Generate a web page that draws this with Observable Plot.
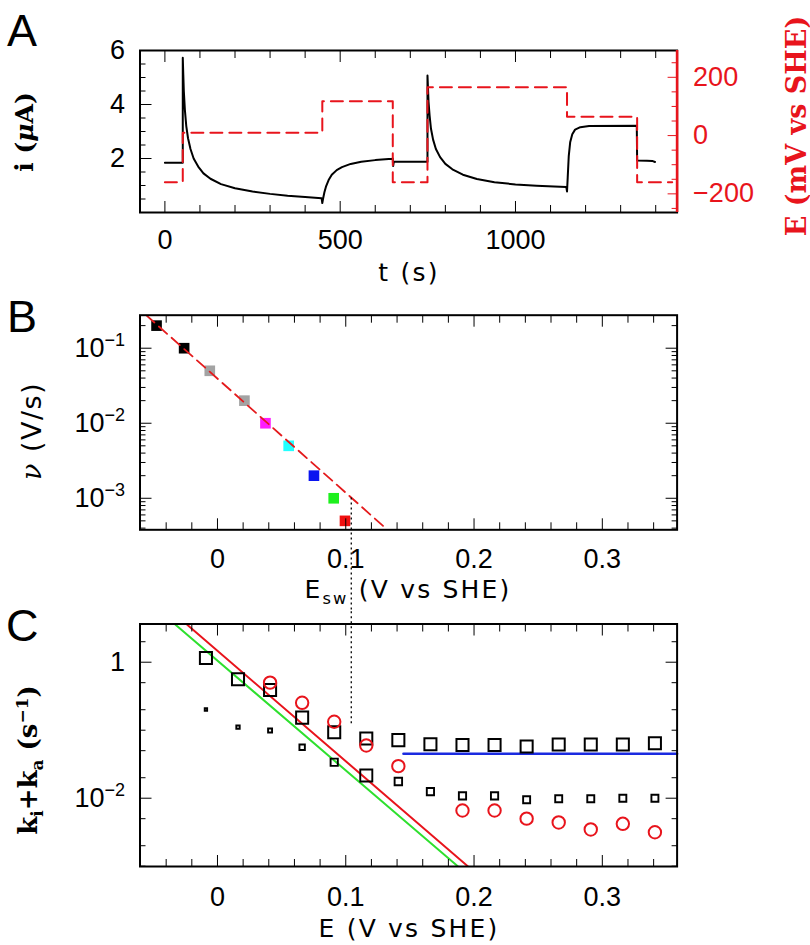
<!DOCTYPE html>
<html><head><meta charset="utf-8">
<script src="https://cdn.jsdelivr.net/npm/d3@7"></script>
<script src="https://cdn.jsdelivr.net/npm/@observablehq/plot@0.6"></script>
<style>
body{margin:0;background:#fff;}
#fig{position:relative;width:810px;height:945px;overflow:hidden;background:#fff;}
#fig svg{position:absolute;left:0;overflow:hidden;}
.lbl{position:absolute;white-space:nowrap;line-height:1;color:#000;}
.rot{transform:translate(-50%,-50%) rotate(-90deg);}
.hc{transform:translate(-50%,0);}
.ttl{font-family:"DejaVu Sans",sans-serif;font-size:25px;letter-spacing:2.2px;}
.serifb{font-family:"DejaVu Serif",serif;font-weight:bold;}
.letter{font-family:"Liberation Sans",Arial,sans-serif;font-size:45px;}
sub,sup{font-size:0.65em;}
</style></head><body><div id="fig"></div>
<script>
// ================= DATA =================
// Panel A: current trace (t in s, i in µA)
const tCurrent = [0,51,51,52.5,54,57,61,66,73,82,95,110,130,160,200,250,300,350,400,447,449,451,455,460,467,476,490,505,530,560,600,648,650,651,653,749,749,750.5,752,755,759,765,773,785,800,820,850,890,940,1000,1060,1110,1145,1147,1149,1152,1156,1162,1170,1185,1210,1346,1347,1375,1390,1398];
const iCurrent = [1.84,1.84,5.73,5.1,4.5,3.8,3.2,2.75,2.35,2.0,1.7,1.45,1.25,1.05,0.9,0.78,0.69,0.62,0.57,0.53,0.35,0.5,0.75,0.98,1.2,1.4,1.57,1.68,1.8,1.88,1.94,1.99,2.0,1.72,1.88,1.88,5.07,4.6,4.1,3.6,3.1,2.7,2.35,2.05,1.8,1.6,1.4,1.24,1.12,1.04,0.99,0.96,0.94,0.78,1.3,2.1,2.6,2.9,3.07,3.16,3.2,3.21,1.93,1.92,1.91,1.87];
// Panel A: potential steps (step starts, mV vs SHE)
const tStep = [0, 51, 449, 650, 749, 1147, 1347, 1447];
const eStep = [-160, 10, 118, -160, 166, 65, -160, -160];
const aXTicks = [0, 500, 1000];
const aYTicks = [2, 4, 6];
const aY2Ticks = [-200, 0, 200];

// Panel B: switching potential vs scan rate
const bScanRate = [0.2, 0.1, 0.05, 0.02, 0.01, 0.005, 0.002, 0.001, 0.0005];
const bEsw = [-0.0475, -0.026, -0.006, 0.021, 0.0374, 0.0555, 0.0752, 0.0906, 0.0994];
const bFitE = [-0.0556, 0.1325];
const bFitV = [0.2754, 0.00038];
const guideE = [0.1043];
const eTicks = [0, 0.1, 0.2, 0.3];
const bYTicks = [0.1, 0.01, 0.001];
const bYTickLabels = ["10^−1", "10^−2", "10^−3"];

// Panel C: rate constants vs E
const cE = [-0.009, 0.016, 0.041, 0.066, 0.091, 0.116, 0.141, 0.166, 0.191, 0.216, 0.241, 0.266, 0.291, 0.316, 0.341];
const cUpperK = [1.15, 0.56, 0.39, 0.153, 0.0935, 0.0755, 0.0715, 0.062, 0.0607, 0.0607, 0.0576, 0.0616, 0.0616, 0.0616, 0.0645];
const cLowerK = [0.2015, 0.111, 0.099, 0.0562, 0.0338, 0.0216, 0.0176, 0.0125, 0.0108, 0.0108, 0.0095, 0.0098, 0.0098, 0.01, 0.01];
const cLowerW = [0.2, 0.28, 0.33, 0.45, 0.6, 1, 0.62, 0.6, 0.6, 0.6, 0.58, 0.58, 0.58, 0.58, 0.58];
const cCircE = [0.041, 0.066, 0.091, 0.116, 0.141, 0.191, 0.216, 0.241, 0.266, 0.291, 0.316, 0.341];
const cCircK = [0.5, 0.253, 0.133, 0.0596, 0.0296, 0.0066, 0.0066, 0.005, 0.0044, 0.00347, 0.0042, 0.00316];
const redFitE = [-0.0236, 0.1951];
const redFitK = [3.55, 0.001];
const greenFitE = [-0.0327, 0.1873];
const greenFitK = [3.55, 0.001];
const blueE = [0.145, 0.3583];
const blueK = [0.045, 0.045];
const cYTicks = [1, 0.01];
const cYTickLabels = ["1", "10^−2"];

// ================= LAYOUT =================
const W = 810, ML = 139.5, MR = 133.4;
const fig = document.getElementById("fig");
const FONT = "'Liberation Sans', Arial, sans-serif";
const baseStyle = {background: "transparent", fontFamily: FONT, fontSize: "27px", overflow: "hidden"};
const zip = (a, b, ka, kb) => a.map((v, i) => ({[ka]: v, [kb]: b[i]}));
const noText = () => "";

// inward ticks drawn by the library's axis marks (negative tickSize points into the frame)
function ticksX(vals, len) {
  return [
    Plot.axisX({anchor: "bottom", ticks: vals, tickSize: -len, tickFormat: noText, label: null}),
    Plot.axisX({anchor: "top", ticks: vals, tickSize: -len, tickFormat: noText, label: null})
  ];
}
function ticksY(vals, len, sides) {
  return sides.map(s => Plot.axisY({anchor: s, ticks: vals, tickSize: -len, tickFormat: noText, label: null}));
}
function place(svg, top) {
  svg.querySelectorAll("text").forEach(t => { if (t.textContent === "") t.remove(); });
  svg.style.top = top + "px"; fig.appendChild(svg); return svg;
}
function superscripts(svg) {
  svg.querySelectorAll("text").forEach(t => {
    const s = t.textContent;
    if (!s.includes("^")) return;
    const [base, exp] = s.split("^");
    while (t.firstChild) t.removeChild(t.firstChild);
    t.appendChild(document.createTextNode(base));
    const ts = document.createElementNS("http://www.w3.org/2000/svg", "tspan");
    ts.setAttribute("dy", "-11");
    ts.setAttribute("style", "font-size:18px");
    ts.textContent = exp;
    t.appendChild(ts);
  });
}
function logMinor(lo, hi, mults, skip = []) {
  const out = [];
  for (let e = -6; e <= 2; e++) for (const m of mults) {
    const v = +(m * Math.pow(10, e)).toPrecision(6);
    if (v > lo * 1.001 && v < hi * 0.999 && !skip.some(t => Math.abs(t - v) / t < 1e-6)) out.push(v);
  }
  return out;
}

// ---------- Panel A ----------
const A = {H: 300, mt: 50, mb: 88, x: [-71, 1461], y: [0, 6], y2: [-264, 292]};
const currentData = zip(tCurrent, iCurrent, "t", "i");
const stepData = zip(tStep, eStep, "t", "E");

const svgA = Plot.plot({
  width: W, height: A.H, marginTop: A.mt, marginBottom: A.mb, marginLeft: ML, marginRight: MR,
  x: {domain: A.x}, y: {domain: A.y},
  style: baseStyle,
  marks: [
    Plot.line(currentData, {x: "t", y: "i", stroke: "black", strokeWidth: 2, strokeLinejoin: "round"}),
    Plot.frame({stroke: "black", strokeWidth: 2}),
    ...ticksX(d3.range(100, 1401, 100).filter(v => v % 500), 7),
    ...ticksX(aXTicks, 11),
    ...ticksY(d3.range(0.5, 6, 0.5).filter(v => v % 2), 6, ["left"]),
    ...ticksY(aYTicks, 12, ["left"]),
    Plot.axisX({ticks: aXTicks, tickSize: 0, tickPadding: 17, tickFormat: d => String(d), label: null, fontSize: 27}),
    Plot.axisY({ticks: aYTicks, tickSize: 0, tickPadding: 15, tickFormat: d => String(d), label: null, fontSize: 27})
  ]
});
place(svgA, 0);

const svgA2 = Plot.plot({
  width: W, height: A.H, marginTop: A.mt, marginBottom: A.mb, marginLeft: ML, marginRight: MR,
  x: {domain: A.x, axis: null}, y: {domain: A.y2},
  style: {...baseStyle, color: "#e8141c"},
  marks: [
    Plot.line(stepData, {x: "t", y: "E", curve: "step-after", stroke: "#e8141c", strokeWidth: 2, strokeDasharray: "12,7"}),
    Plot.ruleX([A.x[1]], {stroke: "#e8141c", strokeWidth: 2.6}),
    ...ticksY(d3.range(-250, 251, 50).filter(v => v % 200), 6, ["right"]),
    ...ticksY(aY2Ticks, 10, ["right"]),
    Plot.axisY({anchor: "right", ticks: aY2Ticks, tickSize: 0, tickPadding: 16, tickFormat: d => (d < 0 ? "−" : "") + Math.abs(d), label: null, fontSize: 27})
  ]
});
place(svgA2, 0);

// ---------- Panel B ----------
const B = {H: 310, mt: 14.7, mb: 80.7, x: [-0.0604, 0.3583], y: [0.00038, 0.2754]};
const bData = zip(bEsw, bScanRate, "E", "v");
const bFit = zip(bFitE, bFitV, "E", "v");
const bLabelMap = new Map(bYTicks.map((v, i) => [v, bYTickLabels[i]]));
const eMinor = d3.range(-4, 35, 2).map(v => v / 100).filter(v => Math.abs(v * 10 - Math.round(v * 10)) > 1e-6);

const svgB = Plot.plot({
  width: W, height: B.H, marginTop: B.mt, marginBottom: B.mb, marginLeft: ML, marginRight: MR,
  x: {domain: B.x}, y: {type: "log", domain: B.y},
  color: {type: "ordinal", domain: bScanRate, range: ["#000000", "#000000", "#a3a3a3", "#a3a3a3", "#ff1cff", "#22ffff", "#0a14f0", "#1ef01e", "#f01010"]},
  style: baseStyle,
  marks: [
    Plot.dot(bData, {x: "E", y: "v", fill: "v", symbol: "square", r: 6}),
    Plot.line(bFit, {x: "E", y: "v", stroke: "#e41a1c", strokeWidth: 1.8, strokeDasharray: "11,6", clip: true}),
    Plot.ruleX(guideE, {x: d => d, y1: 0.00101, y2: 1e-7, stroke: "black", strokeWidth: 1.3, strokeDasharray: "2,3"}),
    Plot.frame({stroke: "black", strokeWidth: 2}),
    ...ticksX(eMinor, 7),
    ...ticksX(eTicks, 11),
    ...ticksY(logMinor(B.y[0], B.y[1], [2, 3, 4, 5, 6, 7, 8, 9]), 6, ["left", "right"]),
    ...ticksY(bYTicks, 12, ["left", "right"]),
    Plot.axisX({ticks: eTicks, tickSize: 0, tickPadding: 19, tickFormat: d => String(d), label: null, fontSize: 27}),
    Plot.axisY({ticks: bYTicks, tickSize: 0, tickPadding: 15, tickFormat: d => bLabelMap.get(d), label: null, fontSize: 27})
  ]
});
superscripts(svgB);
place(svgB, 300);

// ---------- Panel C ----------
const C = {H: 335, mt: 13.5, mb: 79, x: [-0.0604, 0.3583], y: [0.00099, 3.646]};
const upper = zip(cE, cUpperK, "E", "k");
const lower = cE.map((e, i) => ({E: e, k: cLowerK[i], w: cLowerW[i]}));
const circ = zip(cCircE, cCircK, "E", "k");
const cLabelMap = new Map(cYTicks.map((v, i) => [v, cYTickLabels[i]]));

const svgC = Plot.plot({
  width: W, height: C.H, marginTop: C.mt, marginBottom: C.mb, marginLeft: ML, marginRight: MR,
  x: {domain: C.x}, y: {type: "log", domain: C.y},
  r: {type: "linear", domain: [0, 1], range: [0, 6.8]},
  style: baseStyle,
  marks: [
    Plot.line(zip(greenFitE, greenFitK, "E", "k"), {x: "E", y: "k", stroke: "#2ee02e", strokeWidth: 2, clip: true}),
    Plot.line(zip(redFitE, redFitK, "E", "k"), {x: "E", y: "k", stroke: "#e8141c", strokeWidth: 2, clip: true}),
    Plot.line(zip(blueE, blueK, "E", "k"), {x: "E", y: "k", stroke: "#1a2ae0", strokeWidth: 2.6}),
    Plot.ruleX(guideE, {x: d => d, y1: 0.124, y2: 1e4, stroke: "black", strokeWidth: 1.3, strokeDasharray: "2,3"}),
    Plot.dot(upper, {x: "E", y: "k", symbol: "square", r: 6.8, stroke: "black", strokeWidth: 2, fill: "none"}),
    Plot.dot(lower, {x: "E", y: "k", symbol: "square", r: "w", stroke: "black", strokeWidth: 1.9, fill: "none"}),
    Plot.dot(circ, {x: "E", y: "k", r: 6.2, stroke: "#e8141c", strokeWidth: 2, fill: "none"}),
    Plot.frame({stroke: "black", strokeWidth: 2}),
    ...ticksX(eMinor, 7),
    ...ticksX(eTicks, 11),
    ...ticksY(logMinor(C.y[0], C.y[1], [1, 2, 5], cYTicks), 6, ["left", "right"]),
    ...ticksY(cYTicks, 12, ["left", "right"]),
    Plot.axisX({ticks: eTicks, tickSize: 0, tickPadding: 20, tickFormat: d => String(d), label: null, fontSize: 27}),
    Plot.axisY({ticks: cYTicks, tickSize: 0, tickPadding: 15, tickFormat: d => cLabelMap.get(d), label: null, fontSize: 27})
  ]
});
superscripts(svgC);
place(svgC, 610);

// ---------- Titles & panel letters ----------
function label(html, x, y, cls, extra = "") {
  const d = document.createElement("div");
  d.className = "lbl " + cls;
  d.innerHTML = html;
  d.style.left = x + "px"; d.style.top = y + "px";
  if (extra) d.style.cssText += extra;
  fig.appendChild(d);
}
label("A", 7, 8, "letter");
label("B", 7, 294, "letter");
label("C", 6, 603, "letter");
label("t (s)", 409, 260, "ttl hc");
label("E<sub>sw</sub> (V vs SHE)", 408, 577, "ttl hc");
label("E (V vs SHE)", 409, 916, "ttl hc");
label("i (<i>μ</i>A)", 24, 132, "serifb rot", "font-size:25px;");
label("<i style='font-family:DejaVu Serif'>ν</i> (V/s)", 31, 431, "ttl rot", "font-size:27px;letter-spacing:1.5px;");
label("k<sub>i</sub>+k<sub>a</sub> (s<sup>−1</sup>)", 30, 760, "serifb rot", "font-size:26px;");
label("E (mV vs SHE)", 796, 126, "serifb rot", "font-size:27px;color:#e8141c;");
</script></body></html>
